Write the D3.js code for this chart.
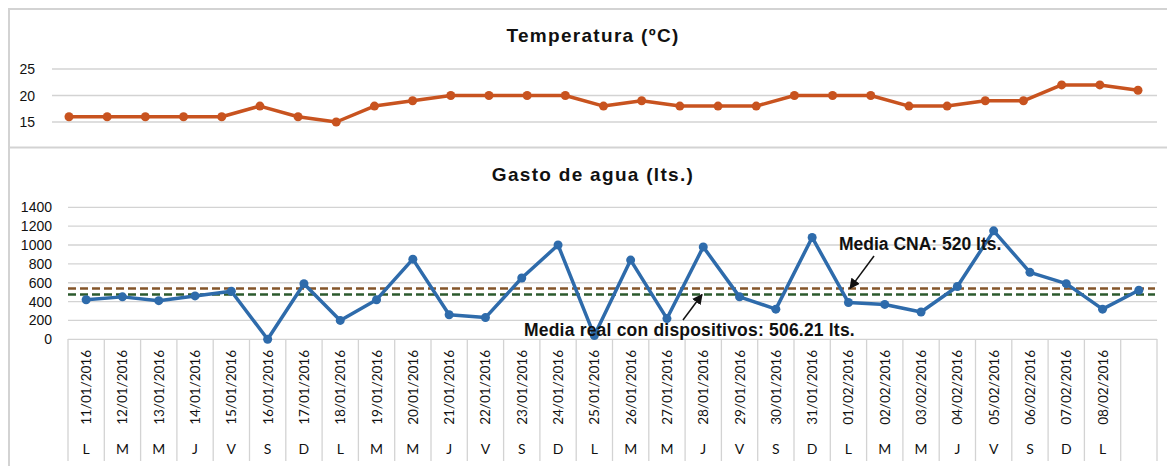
<!DOCTYPE html>
<html>
<head>
<meta charset="utf-8">
<script src="https://cdn.jsdelivr.net/npm/d3@7"></script>
<style>
  body { margin: 0; background: #fff; }
  svg { display: block; }
</style>
</head>
<body>
<div id="chart"></div>
<script>
(function() {
    const width = 1167;
    const height = 466;

    // Data
    const dates = ["11/01/2016","12/01/2016","13/01/2016","14/01/2016","15/01/2016","16/01/2016","17/01/2016",
        "18/01/2016","19/01/2016","20/01/2016","21/01/2016","22/01/2016","23/01/2016","24/01/2016","25/01/2016",
        "26/01/2016","27/01/2016","28/01/2016","29/01/2016","30/01/2016","31/01/2016","01/02/2016","02/02/2016",
        "03/02/2016","04/02/2016","05/02/2016","06/02/2016","07/02/2016","08/02/2016",""];
    const days = ["L","M","M","J","V","S","D","L","M","M","J","V","S","D","L","M","M","J","V","S","D",
        "L","M","M","J","V","S","D","L",""];
    const temperatura = [16,16,16,16,16,18,16,15,18,19,20,20,20,20,18,19,18,18,18,20,20,20,18,18,19,19,22,22,21];
    const gasto = [420,450,410,460,510,0,590,200,420,850,260,230,650,1000,40,840,220,980,450,320,1080,
        390,370,290,560,1150,710,590,320,520];
    const tempTicks = [15, 20, 25];
    const gastoTicks = [0, 200, 400, 600, 800, 1000, 1200, 1400];
    const mediaCNA = 540;   // dashed line position as drawn
    const mediaReal = 475;

    const gridColor = "#d3d3d3";
    const arial = "'Liberation Sans', Arial, sans-serif";
    const calibri = "Lato, 'Open Sans', sans-serif";

    const svg = d3.select("#chart").append("svg")
        .attr("width", width)
        .attr("height", height);

    svg.append("defs").append("marker")
        .attr("id", "arrow")
        .attr("viewBox", "0 0 10 10")
        .attr("refX", 9).attr("refY", 5)
        .attr("markerWidth", 7).attr("markerHeight", 7)
        .attr("orient", "auto")
        .append("path")
        .attr("d", "M0,0 L10,5 L0,10 z")
        .attr("fill", "#111");

    // outer frame
    svg.append("path")
        .attr("d", "M9,466 V9 H1167 M9,147.5 H1167")
        .attr("fill", "none")
        .attr("stroke", gridColor)
        .attr("stroke-width", 2);

    // ---------- Temperatura ----------
    const xTop = d3.scalePoint()
        .domain(d3.range(temperatura.length))
        .range([69, 1138]);
    const yTop = d3.scaleLinear()
        .domain([15, 25])
        .range([122, 69]);

    const top = svg.append("g");

    top.append("text")
        .attr("x", 593).attr("y", 42)
        .attr("text-anchor", "middle")
        .attr("font-family", arial)
        .attr("font-weight", "bold")
        .attr("font-size", 19)
        .attr("letter-spacing", 1.3)
        .attr("fill", "#111")
        .text("Temperatura (ºC)");

    top.append("g")
        .selectAll("line")
        .data(tempTicks)
        .enter()
        .append("line")
        .attr("x1", 52).attr("x2", 1157)
        .attr("y1", d => yTop(d)).attr("y2", d => yTop(d))
        .attr("stroke", gridColor)
        .attr("stroke-width", 1.3);

    top.append("g")
        .selectAll("text")
        .data(tempTicks)
        .enter()
        .append("text")
        .attr("x", 35)
        .attr("y", d => yTop(d) + 5)
        .attr("text-anchor", "end")
        .attr("font-family", arial)
        .attr("font-size", 14)
        .attr("fill", "#111")
        .text(d => d);

    const tempLine = d3.line()
        .x((d, i) => xTop(i))
        .y(d => yTop(d));

    top.append("path")
        .datum(temperatura)
        .attr("d", tempLine)
        .attr("fill", "none")
        .attr("stroke", "#c8531f")
        .attr("stroke-width", 3.5)
        .attr("stroke-linejoin", "round");

    top.append("g")
        .selectAll("circle")
        .data(temperatura)
        .enter()
        .append("circle")
        .attr("cx", (d, i) => xTop(i))
        .attr("cy", d => yTop(d))
        .attr("r", 4.5)
        .attr("fill", "#c8531f");

    // ---------- Gasto de agua ----------
    const xBot = d3.scaleBand()
        .domain(d3.range(dates.length))
        .range([68, 1157]);
    const yBot = d3.scaleLinear()
        .domain([0, 1400])
        .range([339.3, 207.3]);

    const bot = svg.append("g");

    bot.append("text")
        .attr("x", 593).attr("y", 181)
        .attr("text-anchor", "middle")
        .attr("font-family", arial)
        .attr("font-weight", "bold")
        .attr("font-size", 19)
        .attr("letter-spacing", 1.3)
        .attr("fill", "#111")
        .text("Gasto de agua (lts.)");

    bot.append("g")
        .selectAll("line")
        .data(gastoTicks)
        .enter()
        .append("line")
        .attr("x1", 68).attr("x2", 1157)
        .attr("y1", d => yBot(d)).attr("y2", d => yBot(d))
        .attr("stroke", gridColor)
        .attr("stroke-width", 1.3);

    bot.append("g")
        .selectAll("text")
        .data(gastoTicks)
        .enter()
        .append("text")
        .attr("x", 52)
        .attr("y", d => yBot(d) + 5)
        .attr("text-anchor", "end")
        .attr("font-family", arial)
        .attr("font-size", 14)
        .attr("fill", "#111")
        .text(d => d);

    // category table under the plot
    const bounds = d3.range(dates.length + 1).map(i => 68 + i * xBot.step());
    bot.append("g")
        .selectAll("line")
        .data(bounds)
        .enter()
        .append("line")
        .attr("x1", d => d).attr("x2", d => d)
        .attr("y1", 339).attr("y2", 461)
        .attr("stroke", gridColor)
        .attr("stroke-width", 1.3);

    bot.append("g")
        .selectAll("text")
        .data(dates)
        .enter()
        .append("text")
        .attr("transform", (d, i) => "translate(" + (xBot(i) + xBot.bandwidth() / 2 + 5) + ",350) rotate(-90)")
        .attr("text-anchor", "end")
        .attr("font-family", calibri)
        .attr("font-size", 13.5)
        .attr("fill", "#111")
        .text(d => d);

    bot.append("g")
        .selectAll("text")
        .data(days)
        .enter()
        .append("text")
        .attr("x", (d, i) => xBot(i) + xBot.bandwidth() / 2)
        .attr("y", 454)
        .attr("text-anchor", "middle")
        .attr("font-family", calibri)
        .attr("font-size", 14)
        .attr("fill", "#111")
        .text(d => d);

    // reference means
    const means = [
        { value: mediaCNA, color: "#84552a" },
        { value: mediaReal, color: "#2c5a2e" }
    ];
    bot.append("g")
        .selectAll("line")
        .data(means)
        .enter()
        .append("line")
        .attr("x1", 68).attr("x2", 1155)
        .attr("y1", d => yBot(d.value)).attr("y2", d => yBot(d.value))
        .attr("stroke", d => d.color)
        .attr("stroke-width", 2.5)
        .attr("stroke-dasharray", "8,4");

    const gastoLine = d3.line()
        .x((d, i) => xBot(i) + xBot.bandwidth() / 2)
        .y(d => yBot(d));

    bot.append("path")
        .datum(gasto)
        .attr("d", gastoLine)
        .attr("fill", "none")
        .attr("stroke", "#2e6bab")
        .attr("stroke-width", 3.5)
        .attr("stroke-linejoin", "round");

    bot.append("g")
        .selectAll("circle")
        .data(gasto)
        .enter()
        .append("circle")
        .attr("cx", (d, i) => xBot(i) + xBot.bandwidth() / 2)
        .attr("cy", d => yBot(d))
        .attr("r", 4.5)
        .attr("fill", "#2e6bab");

    // annotations
    bot.append("text")
        .attr("x", 839).attr("y", 250)
        .attr("font-family", arial)
        .attr("font-weight", "bold")
        .attr("font-size", 17.5)
        .attr("fill", "#111")
        .text("Media CNA: 520 lts.");
    bot.append("line")
        .attr("x1", 874).attr("y1", 256)
        .attr("x2", 850).attr("y2", yBot(mediaCNA))
        .attr("stroke", "#111")
        .attr("stroke-width", 1.5)
        .attr("marker-end", "url(#arrow)");

    bot.append("text")
        .attr("x", 524).attr("y", 336)
        .attr("font-family", arial)
        .attr("font-weight", "bold")
        .attr("font-size", 17.5)
        .attr("letter-spacing", 0.2)
        .attr("fill", "#111")
        .text("Media real con dispositivos: 506.21 lts.");
    bot.append("line")
        .attr("x1", 683).attr("y1", 320)
        .attr("x2", 702).attr("y2", yBot(mediaReal))
        .attr("stroke", "#111")
        .attr("stroke-width", 1.5)
        .attr("marker-end", "url(#arrow)");
})();
</script>
</body>
</html>
